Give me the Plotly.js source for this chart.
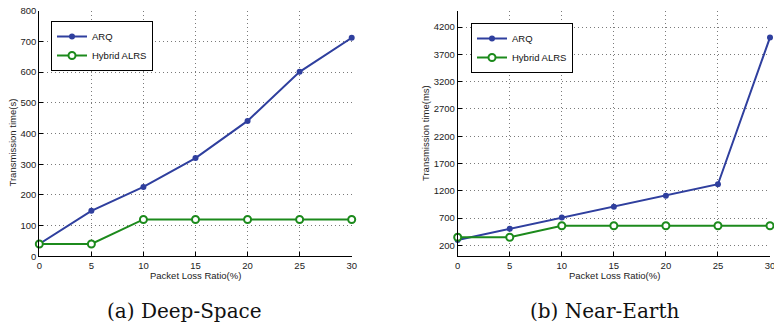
<!DOCTYPE html>
<html>
<head>
<meta charset="utf-8">
<script src="https://cdn.plot.ly/plotly-3.0.1.min.js"></script>
<style>html,body{margin:0;padding:0;background:#fff;}#chart{width:774px;height:327px;}</style>
</head>
<body>
<div id="chart"></div>
<script>
const lossRatio = [0, 5, 10, 15, 20, 25, 30];
const deepARQ = [40, 148, 226, 320, 441, 601, 712];
const deepHybrid = [40, 40, 120, 120, 120, 120, 120];
const nearARQ = [300, 505, 712, 910, 1110, 1320, 4010];
const nearHybrid = [350, 350, 560, 560, 560, 560, 560];
const seriesNames = ['ARQ', 'Hybrid ALRS'];
const deepYTicks = [0, 100, 200, 300, 400, 500, 600, 700, 800];
const nearYTicks = [200, 700, 1200, 1700, 2200, 2700, 3200, 3700, 4200];
const xTicks = [0, 5, 10, 15, 20, 25, 30];

const blue = '#2f3f9e';
const green = '#1c8a1c';
const font = 'Liberation Sans, Arial, Helvetica, sans-serif';

function arq(x, y, xa, ya, lg) {
  return {x: x, y: y, xaxis: xa, yaxis: ya, legend: lg, name: seriesNames[0], type: 'scatter', mode: 'lines+markers',
    line: {color: blue, width: 2}, marker: {color: blue, size: 6, symbol: 'circle'}, cliponaxis: false};
}
function hyb(x, y, xa, ya, lg) {
  return {x: x, y: y, xaxis: xa, yaxis: ya, legend: lg, name: seriesNames[1], type: 'scatter', mode: 'lines+markers',
    line: {color: green, width: 2}, marker: {color: '#ffffff', size: 7, symbol: 'circle', line: {color: green, width: 2}}, cliponaxis: false};
}

const data = [
  arq(lossRatio, deepARQ, 'x', 'y', 'legend'),
  hyb(lossRatio, deepHybrid, 'x', 'y', 'legend'),
  arq(lossRatio, nearARQ, 'x2', 'y2', 'legend2'),
  hyb(lossRatio, nearHybrid, 'x2', 'y2', 'legend2')
];

const W = 774, H = 327;
const yDom = [(H - 256.3) / H, (H - 10.7) / H];
const common = {
  showline: true, linecolor: '#000', linewidth: 1, mirror: false, zeroline: false,
  showgrid: true, gridcolor: '#7a7a7a', griddash: '1px,3px', gridwidth: 1,
  ticks: 'inside', ticklen: 4, tickcolor: '#000', tickfont: {family: font, size: 9.5, color: '#222'},
  ticklabeloverflow: 'allow', fixedrange: true
};
function xa(dom, anchor) {
  return Object.assign({domain: dom, anchor: anchor, range: [0, 30], tickmode: 'array', tickvals: xTicks}, common);
}
function ya(dom, anchor, range, ticks) {
  return Object.assign({domain: dom, anchor: anchor, range: range, tickmode: 'array', tickvals: ticks}, common);
}

const legendStyle = {bgcolor: '#ffffff', bordercolor: '#000', borderwidth: 1, font: {family: font, size: 9.5, color: '#111'},
  xanchor: 'left', yanchor: 'top', tracegroupgap: 0, itemwidth: 30};

function ann(text, x, y, opts) {
  return Object.assign({text: text, x: x / W, y: (H - y) / H, xref: 'paper', yref: 'paper', showarrow: false,
    xanchor: 'center', yanchor: 'middle', font: {family: font, size: 9.5, color: '#222'}}, opts || {});
}
const capFont = {family: 'DejaVu Serif, Liberation Serif, serif', size: 20, color: '#111'};

const layout = {
  width: W, height: H, margin: {l: 0, r: 0, t: 0, b: 0}, paper_bgcolor: '#fff', plot_bgcolor: '#fff',
  showlegend: true,
  xaxis: xa([39.3 / W, 351.7 / W], 'y'),
  yaxis: ya(yDom, 'x', [0, 800], deepYTicks),
  xaxis2: xa([457.7 / W, 770 / W], 'y2'),
  yaxis2: ya(yDom, 'x2', [0, 4500], nearYTicks),
  legend: Object.assign({}, legendStyle, {x: 51 / W, y: (H - 21) / H}),
  legend2: Object.assign({}, legendStyle, {x: 471 / W, y: (H - 23) / H}),
  annotations: [
    ann('Packet Loss Ratio(%)', 195.5, 275),
    ann('Packet Loss Ratio(%)', 614, 275),
    ann('Transmission time(s)', 11.5, 143, {textangle: -90}),
    ann('Transmission time(ms)', 425, 133, {textangle: -90}),
    ann('(a) Deep-Space', 184, 311, {font: capFont}),
    ann('(b) Near-Earth', 604, 311, {font: capFont})
  ]
};

Plotly.newPlot('chart', data, layout, {displayModeBar: false, staticPlot: true});
</script>
</body>
</html>
